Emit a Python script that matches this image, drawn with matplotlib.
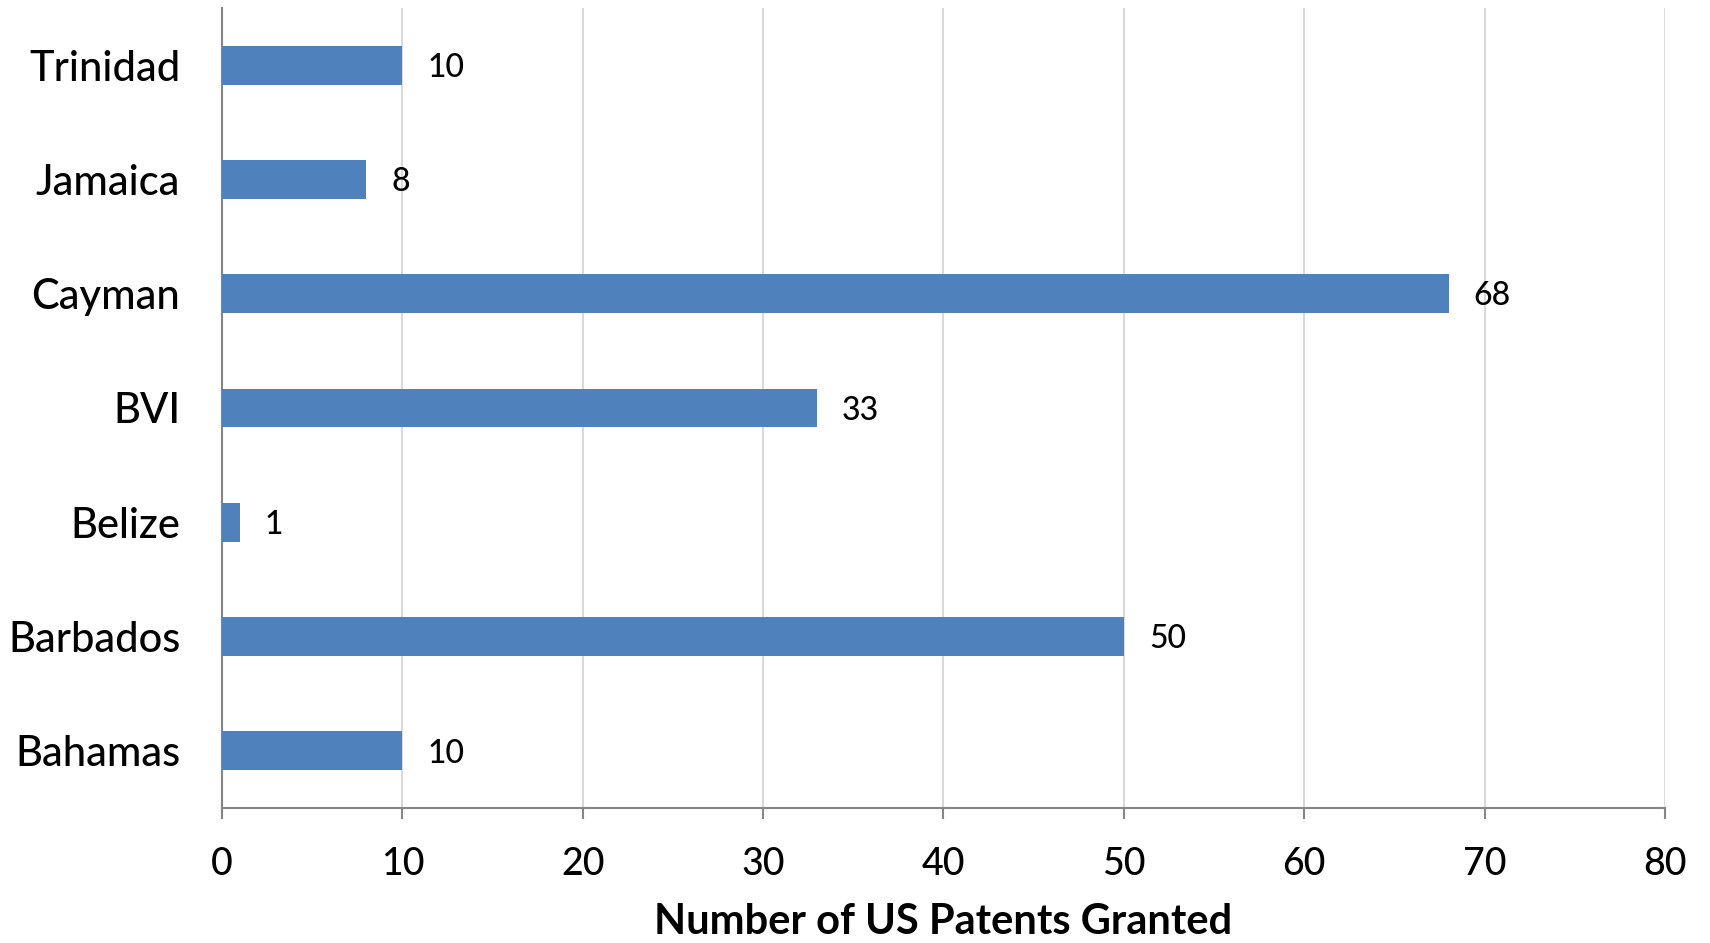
import matplotlib
matplotlib.use("Agg")
from matplotlib import pyplot as plt

# categories bottom -> top
countries = ["Bahamas", "Barbados", "Belize", "BVI", "Cayman", "Jamaica", "Trinidad"]
patents = [10, 50, 1, 33, 68, 8, 10]
xticks = [0, 10, 20, 30, 40, 50, 60, 70, 80]

plt.rcParams['font.family'] = ['Lato', 'DejaVu Sans']

fig = plt.figure(figsize=(17.1, 9.43), dpi=100)
ax = fig.add_axes([0.1298, 0.1432, 0.9737 - 0.1298, 0.9915 - 0.1432])

ax.barh(countries, patents, height=0.34, color='#4F81BD', zorder=3)

# value labels to the right of each bar
for i, v in enumerate(patents):
    ax.annotate(str(v), xy=(v, i), xytext=(18, -2), textcoords='offset points',
                va='center', ha='left', fontsize=23, fontweight='medium', color='black')

ax.set_xlim(0, 80)
ax.set_ylim(-0.5, len(countries) - 0.5)
ax.set_xticks(xticks)
ax.set_xticklabels([str(t) for t in xticks])
ax.xaxis.grid(True, color='#d9d9d9', linewidth=1.5, zorder=0)
ax.set_axisbelow(True)

for s in ['top', 'right']:
    ax.spines[s].set_visible(False)
ax.spines['left'].set_color('#868686')
ax.spines['bottom'].set_color('#868686')
ax.spines['left'].set_linewidth(1.5)
ax.spines['bottom'].set_linewidth(1.5)

ax.tick_params(axis='x', length=8, width=1.5, color='#868686', labelsize=27, pad=20)
ax.tick_params(axis='y', length=0, labelsize=30, pad=30)
for lbl in ax.get_xticklabels() + ax.get_yticklabels():
    lbl.set_fontweight('medium')

fig.text((0.1298 + 0.9737) / 2, 0.002, "Number of US Patents Granted",
         ha='center', va='bottom', fontsize=30, fontweight='bold')

fig.savefig("out.png", dpi=100)
